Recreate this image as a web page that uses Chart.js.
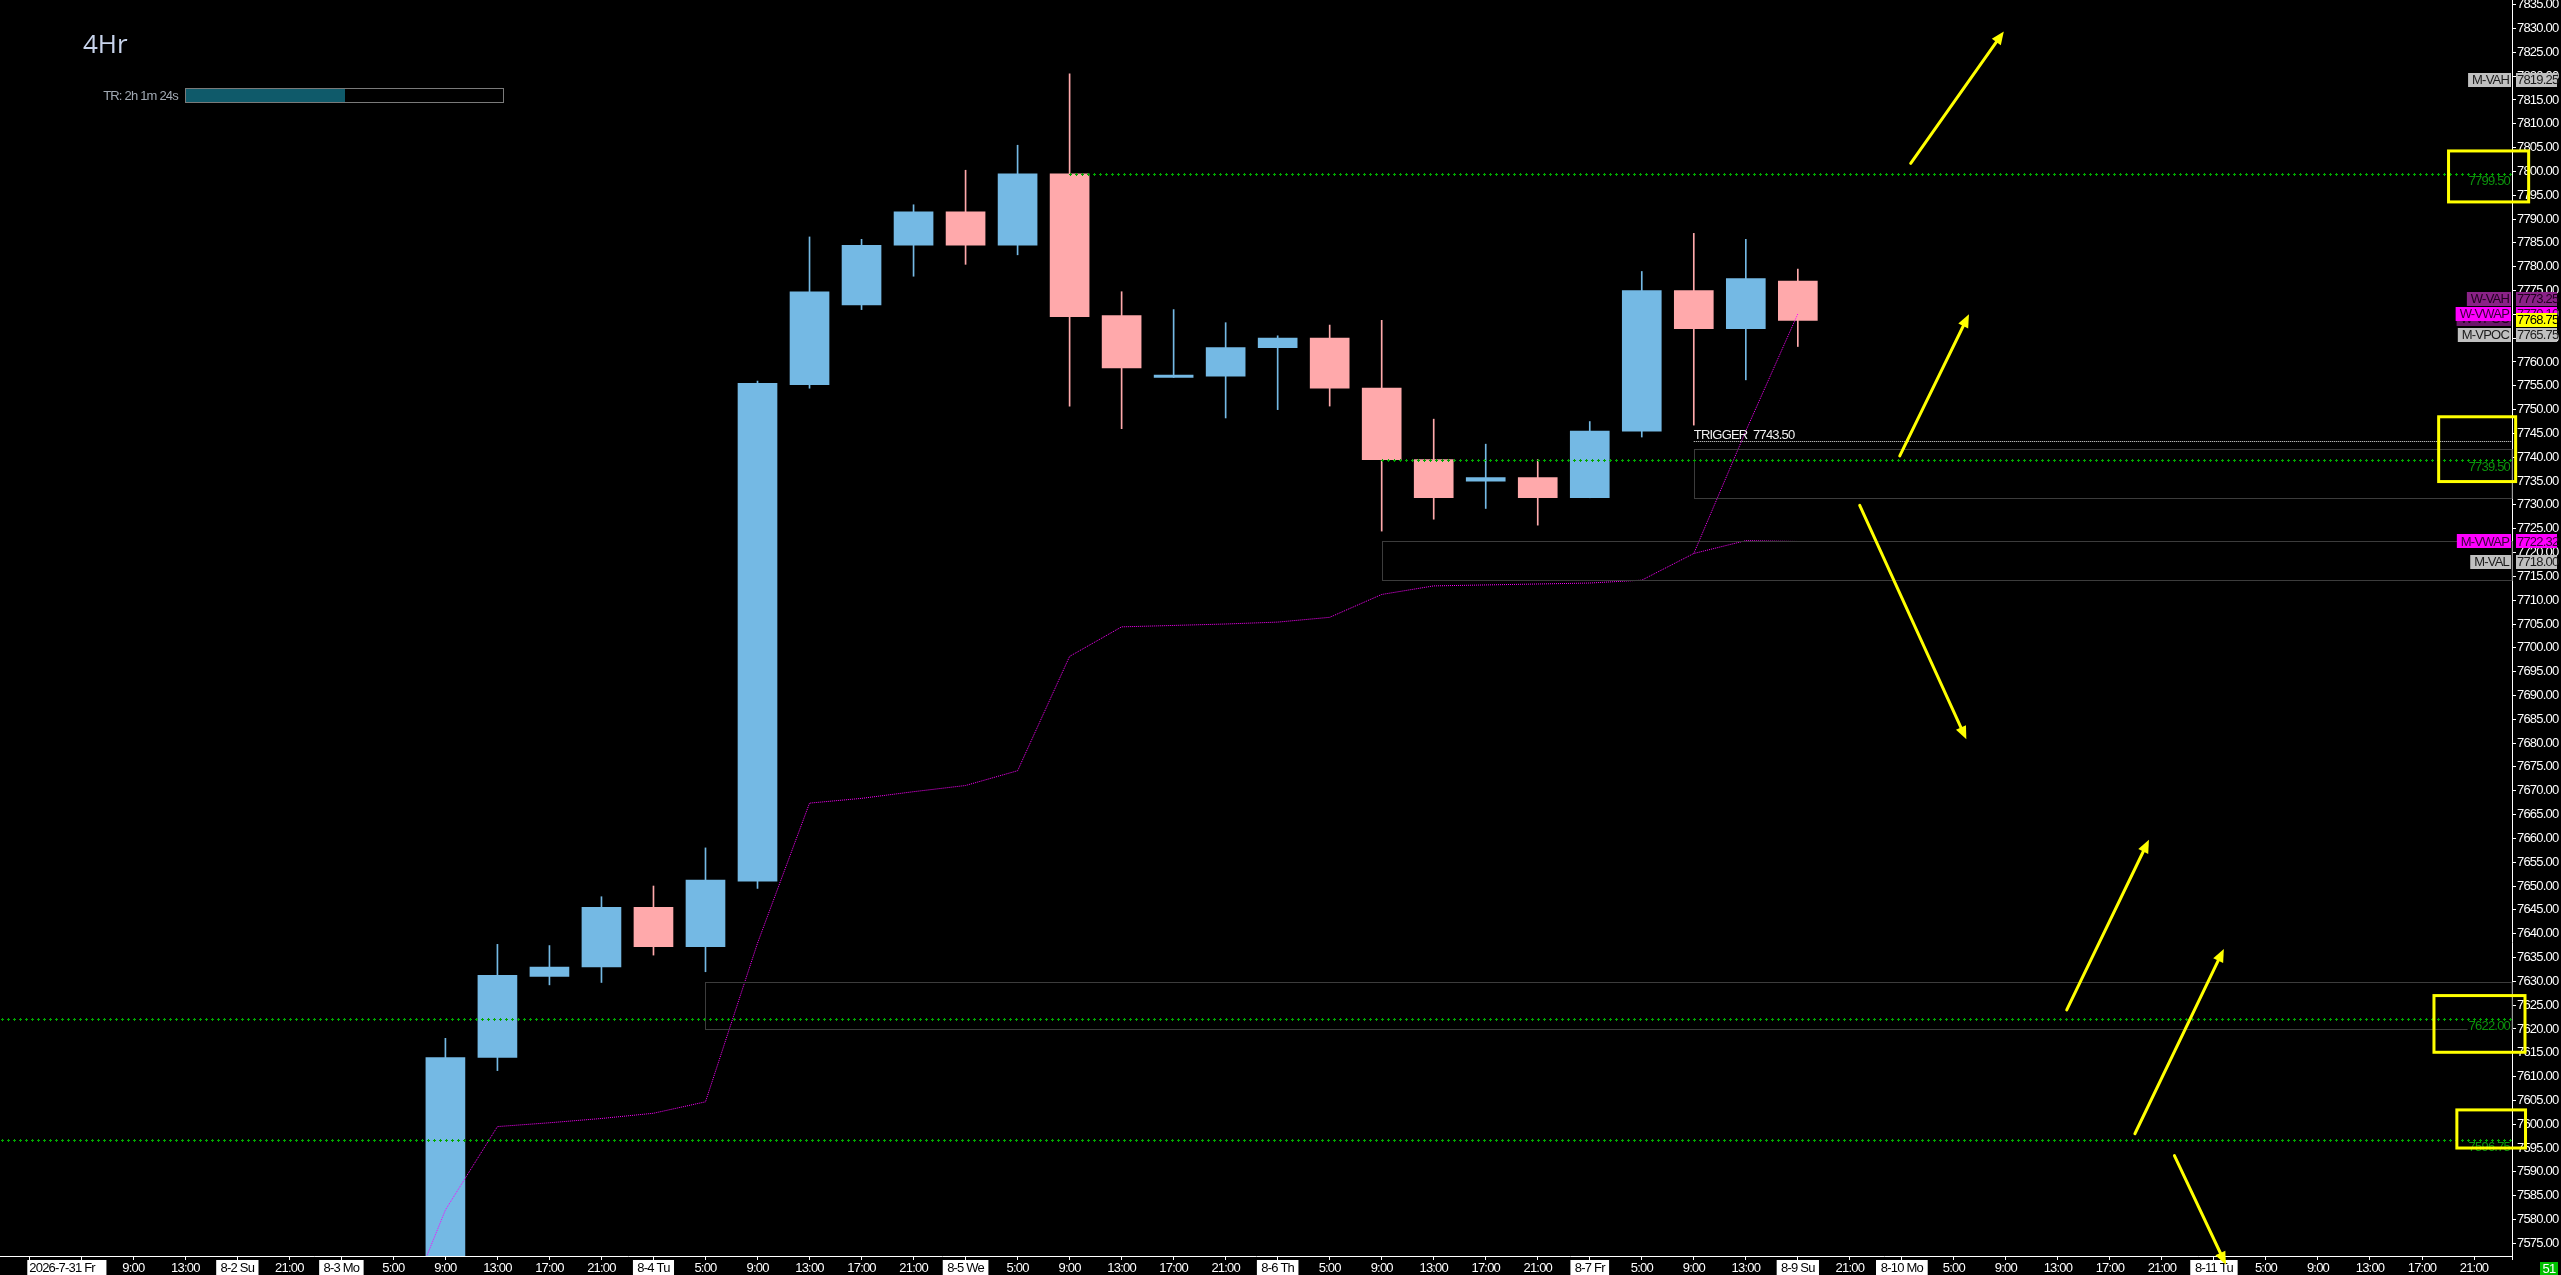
<!DOCTYPE html>
<html>
<head>
<meta charset="utf-8">
<title>4Hr</title>
<script src="https://cdn.jsdelivr.net/npm/chart.js@4.4.1/dist/chart.umd.min.js"></script>
<style>
  html, body { margin: 0; padding: 0; background: #000; overflow: hidden; }
  #wrap { position: relative; width: 2561px; height: 1275px; }
</style>
</head>
<body>
<div id="wrap"><canvas id="chart" width="2561" height="1275"></canvas></div>
<script>
// one label per 4h bar, first label sits on bar -1
const firstLabelBar = -1;
const xLabels = [
  '2026-7-31 Fr', '', '9:00', '13:00', '8-2 Su', '21:00', '8-3 Mo', '5:00',
  '9:00', '13:00', '17:00', '21:00', '8-4 Tu', '5:00', '9:00', '13:00',
  '17:00', '21:00', '8-5 We', '5:00', '9:00', '13:00', '17:00', '21:00',
  '8-6 Th', '5:00', '9:00', '13:00', '17:00', '21:00', '8-7 Fr', '5:00',
  '9:00', '13:00', '8-9 Su', '21:00', '8-10 Mo', '5:00', '9:00', '13:00',
  '17:00', '21:00', '8-11 Tu', '5:00', '9:00', '13:00', '17:00', '21:00'
];

// candles from bar 7 (8-3 9:00) to bar 33 (8-9 Su)
const candleStart = 7;
const opens  = [7565, 7614, 7631, 7633, 7645.5, 7637.25, 7651, 7755.25, 7772, 7784.5,
                7791.5, 7784.5, 7799.5, 7769.75, 7756.75, 7757, 7763, 7765, 7754.5, 7739.5,
                7735, 7735.75, 7731.5, 7745.5, 7775, 7767, 7777];
const highs  = [7618, 7637.75, 7637.5, 7647.75, 7650, 7658, 7756, 7786.25, 7785.75, 7793,
                7800.25, 7805.5, 7820.5, 7774.75, 7771, 7768.25, 7765.5, 7767.75, 7768.75, 7748,
                7742.75, 7739.5, 7747.5, 7779, 7787, 7785.75, 7779.5];
const lows   = [7560, 7611.25, 7629.25, 7629.75, 7635.5, 7632, 7649.5, 7754.5, 7771, 7778,
                7780.5, 7782.5, 7750.75, 7746, 7756.75, 7748.25, 7750, 7750.75, 7724.5, 7727,
                7729.25, 7725.75, 7731.5, 7744.25, 7746.75, 7756.25, 7763.25];
const closes = [7614, 7631.25, 7633, 7645.5, 7637.25, 7651.25, 7755.5, 7774.75, 7784.5, 7791.5,
                7784.5, 7799.5, 7769.5, 7758.75, 7757.25, 7763, 7765, 7754.5, 7739.5, 7731.5,
                7735.75, 7731.5, 7745.5, 7775, 7767, 7777.5, 7768.75];

// monthly vwap from bar 6, weekly vwap from bar 31
const mVwapStart = 6;
const mVwap = [7555, 7582, 7599.5, 7600.3, 7601.2, 7602.3, 7604.7, 7638, 7667.4, 7668.4,
               7669.8, 7671.1, 7674.2, 7698.2, 7704.4, 7704.7, 7705, 7705.4, 7706.4, 7711.2,
               7713, 7713.2, 7713.4, 7713.6, 7714.2, 7719.8, 7722.5, 7722.32];
const wVwapStart = 31;
const wVwap = [7719.8, 7745.5, 7770.1];

// green dotted levels (null = from left edge)
const levelPrice = [7799.5, 7739.5, 7622.0, 7596.75];
const levelFrom  = [19, 25, null, null];

// grey zones
const zoneFrom = [31, 25, 12];
const zoneHigh = [7741.75, 7722.32, 7629.75];
const zoneLow  = [7731.5, 7714.25, 7620.0];

const triggerBar = 31;
const triggerPrice = 7743.5;

// price markers on the right axis
const markerNames  = ['M-VAH', 'W-VAH', 'W-VPOC', 'W-VWAP', 'M-VPOC', 'M-VWAP', 'M-VAL'];
const markerPrices = [7819.25, 7773.25, 7769.00, 7770.10, 7765.75, 7722.32, 7718.00];
const lastPrice = 7768.75;

// hand drawn arrows, [bar, price] tail -> head
const arrowTail = [[35.17, 7801.7], [34.96, 7740.3], [34.19, 7729.9], [38.17, 7624.0], [39.48, 7598.0], [40.24, 7593.4]];
const arrowHead = [[36.96, 7829.4], [36.29, 7770.0], [36.24, 7680.8], [39.75, 7659.7], [41.19, 7636.8], [41.23, 7570.5]];
// hand drawn boxes, [bar, price] corners
const boxA = [[45.51, 7804.3], [45.32, 7748.5], [45.23, 7627.0], [45.67, 7603.0]];
const boxB = [[47.05, 7793.6], [46.80, 7734.9], [46.98, 7615.1], [46.99, 7595.0]];

const BLUE = '#74b9e4';
const PINK = '#ffa9ab';
const YELLOW = '#ffff00';
const NARROW = '"Liberation Sans", Arial, sans-serif';
const SPACING = '-0.8px';
const markerStyle = {
  'M-VAH':  ['#c0c0c0', '#1c1c1c'],
  'W-VAH':  ['#8a2287', '#1e001c'],
  'W-VPOC': ['#6c166a', '#1e001c'],
  'W-VWAP': ['#ff00ff', '#3a003a'],
  'M-VPOC': ['#c0c0c0', '#1c1c1c'],
  'M-VWAP': ['#ff00ff', '#3a003a'],
  'M-VAL':  ['#c0c0c0', '#1c1c1c']
};

const bars = opens.map((o, i) => candleStart + i);
const colors = opens.map((o, i) => closes[i] >= o ? BLUE : PINK);
const isDate = s => typeof s === 'string' && s.indexOf('-') > 0;

function crossLine(c, x0, x1, y) {
  c.fillStyle = '#00a800';
  y = Math.round(y);
  for (let x = x0; x <= x1; x += 6) {
    const px = Math.round(x);
    c.fillRect(px - 1, y, 3, 1);
    c.fillRect(px, y - 1, 1, 3);
  }
}

function arrow(c, x0, y0, x1, y1) {
  const a = Math.atan2(y1 - y0, x1 - x0), cs = Math.cos(a), sn = Math.sin(a);
  const L = 13, W = 5.5;
  c.strokeStyle = YELLOW; c.fillStyle = YELLOW;
  c.lineWidth = 3; c.lineCap = 'round';
  c.beginPath(); c.moveTo(x0, y0); c.lineTo(x1 - L * 0.7 * cs, y1 - L * 0.7 * sn); c.stroke();
  c.beginPath();
  c.moveTo(x1, y1);
  c.lineTo(x1 - L * cs + W * sn, y1 - L * sn - W * cs);
  c.lineTo(x1 - L * cs - W * sn, y1 - L * sn + W * cs);
  c.closePath(); c.fill();
}

const overlay = {
  id: 'overlay',
  beforeDraw(chart) {
    // squeeze text a little, the original axis font is a narrow one
    chart.ctx.letterSpacing = SPACING;
  },
  afterDatasetsDraw(chart) {
    const c = chart.ctx, xs = chart.scales.x, ys = chart.scales.y, area = chart.chartArea;
    c.save();
    // zones
    c.strokeStyle = '#3c3c3c'; c.lineWidth = 1;
    zoneFrom.forEach((b, i) => {
      const x = Math.round(xs.getPixelForValue(b)) + 0.5;
      const t = Math.round(ys.getPixelForValue(zoneHigh[i])) + 0.5;
      const btm = Math.round(ys.getPixelForValue(zoneLow[i])) + 0.5;
      c.strokeRect(x, t, area.right - x, btm - t);
    });
    // trigger
    const tx = xs.getPixelForValue(triggerBar);
    const ty = Math.round(ys.getPixelForValue(triggerPrice)) + 0.5;
    c.strokeStyle = '#e6e6e6'; c.setLineDash([1, 1]);
    c.beginPath(); c.moveTo(tx, ty); c.lineTo(area.right, ty); c.stroke();
    c.setLineDash([]);
    c.font = '13px ' + NARROW; c.fillStyle = '#f0f0f0';
    c.textAlign = 'left'; c.textBaseline = 'alphabetic';
    c.fillText('TRIGGER  ' + triggerPrice.toFixed(2), tx, ty - 3);
    // green levels
    levelPrice.forEach((p, i) => {
      const x0 = levelFrom[i] === null ? area.left + 2 : xs.getPixelForValue(levelFrom[i]);
      crossLine(c, x0, area.right - 1, ys.getPixelForValue(p));
    });
    c.restore();
  },
  afterDraw(chart) {
    const c = chart.ctx, xs = chart.scales.x, ys = chart.scales.y, area = chart.chartArea;
    c.save();
    c.letterSpacing = SPACING;
    // level price texts
    c.font = '13px ' + NARROW; c.textBaseline = 'top'; c.textAlign = 'right';
    levelPrice.forEach(p => {
      const y = Math.round(ys.getPixelForValue(p));
      const t = p.toFixed(2), w = c.measureText(t).width;
      c.fillStyle = '#000'; c.fillRect(area.right - 3 - w, y + 2, w + 2, 11);
      c.fillStyle = '#0c920c'; c.fillText(t, area.right - 2, y + 1);
    });
    // axis markers
    c.textBaseline = 'middle';
    markerNames.forEach((n, i) => {
      const [bg, fg] = markerStyle[n];
      const y = ys.getPixelForValue(markerPrices[i]);
      const w = c.measureText(n).width + 6;
      c.fillStyle = bg; c.fillRect(area.right - 1 - w, Math.round(y - 7), w, 14);
      c.fillStyle = fg; c.textAlign = 'right'; c.fillText(n, area.right - 3, y + 0.5);
      c.fillStyle = bg; c.fillRect(area.right + 4, Math.round(y - 7), 41, 14);
      c.fillStyle = fg; c.textAlign = 'left'; c.fillText(markerPrices[i].toFixed(2), area.right + 5, y + 0.5);
    });
    const ly = ys.getPixelForValue(lastPrice);
    c.fillStyle = YELLOW; c.fillRect(area.right + 4, Math.round(ly - 7), 41, 14);
    c.fillStyle = '#000'; c.fillText(lastPrice.toFixed(2), area.right + 5, ly + 0.5);
    // arrows and boxes
    arrowTail.forEach((t, i) => {
      const h = arrowHead[i];
      arrow(c, xs.getPixelForValue(t[0]), ys.getPixelForValue(t[1]),
               xs.getPixelForValue(h[0]), ys.getPixelForValue(h[1]));
    });
    c.strokeStyle = YELLOW; c.lineWidth = 3;
    boxA.forEach((a, i) => {
      const b = boxB[i];
      const x0 = xs.getPixelForValue(a[0]), y0 = ys.getPixelForValue(a[1]);
      const x1 = xs.getPixelForValue(b[0]), y1 = ys.getPixelForValue(b[1]);
      c.strokeRect(x0, y0, x1 - x0, y1 - y0);
    });
    // title and timer
    c.letterSpacing = '0px';
    c.textAlign = 'left'; c.textBaseline = 'alphabetic';
    c.font = '26px "Open Sans", "Noto Sans", sans-serif'; c.fillStyle = '#c8d4ec';
    c.fillText('4Hr', 83, 53);
    c.letterSpacing = SPACING;
    c.font = '13px ' + NARROW; c.fillStyle = '#a2aab4'; c.textAlign = 'right';
    c.fillText('TR: 2h 1m 24s', 178, 100);
    c.fillStyle = '#0f5a6a'; c.fillRect(186, 88, 159, 14);
    c.strokeStyle = '#7a7a7a'; c.lineWidth = 1; c.strokeRect(185.5, 88.5, 318, 14);
    // bar counter
    c.fillStyle = '#00c000'; c.fillRect(2540, 1262, 18, 13);
    c.fillStyle = '#ffffff'; c.textAlign = 'center'; c.textBaseline = 'middle';
    c.fillText('51', 2549, 1269);
    c.restore();
    chart.ctx.letterSpacing = '0px';
  }
};

const tickFont = { family: NARROW, size: 13 };

new Chart(document.getElementById('chart'), {
  type: 'bar',
  data: {
    datasets: [
      {
        label: 'wick',
        data: bars.map((x, i) => ({ x, y: [lows[i], highs[i]] })),
        backgroundColor: colors, barThickness: 1, grouped: false, order: 3, clip: 0
      },
      {
        label: 'body',
        data: bars.map((x, i) => ({ x, y: [opens[i], closes[i]] })),
        backgroundColor: colors, barThickness: 39, minBarLength: 2, grouped: false, order: 2, clip: 0
      },
      {
        type: 'line', label: 'M-VWAP',
        data: mVwap.map((v, i) => ({ x: mVwapStart + i, y: v })),
        borderColor: '#ff00ff', borderWidth: 1, borderDash: [1, 1],
        pointRadius: 0, fill: false, tension: 0, order: 1, clip: 0
      },
      {
        type: 'line', label: 'W-VWAP',
        data: wVwap.map((v, i) => ({ x: wVwapStart + i, y: v })),
        borderColor: '#ff00ff', borderWidth: 1, borderDash: [1, 1],
        pointRadius: 0, fill: false, tension: 0, order: 1, clip: 0
      }
    ]
  },
  options: {
    responsive: false,
    animation: false,
    layout: { padding: 0 },
    plugins: { legend: { display: false }, tooltip: { enabled: false } },
    scales: {
      x: {
        type: 'linear', min: -1.563, max: 46.73, offset: false,
        border: { display: true, color: '#ffffff', width: 1 },
        grid: { offset: false, drawOnChartArea: false, drawTicks: true, tickLength: 4, color: '#ffffff' },
        afterBuildTicks: s => {
          s.ticks = xLabels.map((l, i) => ({ value: firstLabelBar + i })).concat([{ value: 46.73 }]);
        },
        ticks: {
          autoSkip: false, maxRotation: 0, minRotation: 0, align: 'inner', padding: 1,
          font: tickFont,
          callback: v => Number.isInteger(v) ? (xLabels[v - firstLabelBar] || '') : '',
          color: c => isDate(c.tick && c.tick.label) ? '#000000' : '#ffffff',
          showLabelBackdrop: c => isDate(c.tick && c.tick.label),
          backdropColor: '#ffffff',
          backdropPadding: { x: 2, y: 1 }
        },
        afterFit: s => { s.height = 19; s.paddingLeft = 0; s.paddingRight = 0; }
      },
      y: {
        position: 'right', min: 7572.334, max: 7835.987,
        border: { display: true, color: '#ffffff', width: 1 },
        grid: { drawOnChartArea: false, drawTicks: true, tickLength: 4, color: '#ffffff' },
        ticks: {
          stepSize: 5, autoSkip: false, includeBounds: false, padding: 1,
          color: '#ffffff', font: tickFont,
          callback: v => Number(v).toFixed(2)
        },
        afterFit: s => { s.width = 49; s.paddingTop = 0; s.paddingBottom = 0; }
      }
    }
  },
  plugins: [overlay]
});
</script>
</body>
</html>
